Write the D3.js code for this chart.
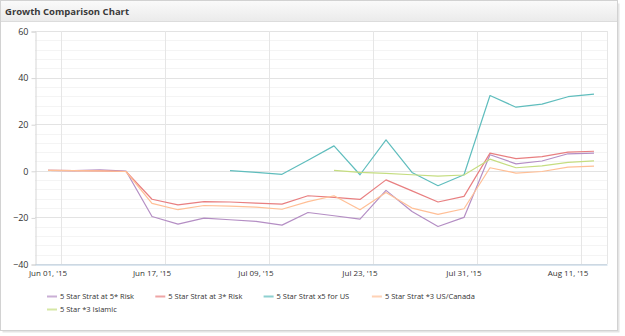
<!DOCTYPE html>
<html>
<head>
<meta charset="utf-8">
<script src="https://cdn.jsdelivr.net/npm/d3@7"></script>
<style>
  body { margin: 0; background: #fff; }
  svg text { font-family: "Open Sans", "DejaVu Sans", sans-serif; }
</style>
</head>
<body>
<div id="chart"></div>
<script>
// categories (dates) - only every 4th is labelled on the axis
var dates = ["Jun 01, '15", "Jun 04, '15", "Jun 08, '15", "Jun 11, '15",
    "Jun 17, '15", "Jun 22, '15", "Jun 26, '15", "Jul 01, '15",
    "Jul 09, '15", "Jul 13, '15", "Jul 16, '15", "Jul 20, '15",
    "Jul 23, '15", "Jul 27, '15", "Jul 29, '15", "Jul 30, '15",
    "Jul 31, '15", "Aug 03, '15", "Aug 05, '15", "Aug 07, '15",
    "Aug 11, '15", "Aug 13, '15"];

var seriesNames = ["5 Star Strat at 5* Risk", "5 Star Strat at 3* Risk",
    "5 Star Strat x5 for US", "5 Star Strat *3 US/Canada", "5 Star *3 Islamic"];

var risk5 = [0.2, 0.1, 0.4, -0.1, -19.6, -22.9, -20.3, -21, -21.7, -23.3, -17.9,
    -19.3, -20.7, -8.4, -17.5, -23.9, -20, 6.9, 3, 4.2, 7.3, 7.6];
var risk3 = [0.2, 0.1, 0, -0.3, -12.2, -14.6, -13.2, -13.4, -13.9, -14.3, -10.7,
    -11.4, -12.3, -3.9, -8.6, -13.4, -11, 7.6, 5.2, 6.1, 8, 8.4];
var x5us = [null, null, null, null, null, null, null, 0.1, -0.7, -1.5, 4.5,
    10.7, -1.7, 13.3, -0.7, -6.4, -1.7, 32.3, 27.3, 28.6, 31.8, 32.9];
var usCanada = [0.2, 0.1, 0, -0.3, -14, -16.7, -14.9, -15.2, -15.6, -16.5, -13.2,
    -10.7, -16.7, -9.3, -16, -18.7, -16.3, 1.3, -1, -0.3, 1.6, 2];
var islamic = [null, null, null, null, null, null, null, null, null, null, null,
    0.2, -0.7, -1.1, -1.7, -2.3, -1.8, 5, 1.3, 2.1, 3.6, 4.3];

var yTicks = [-40, -20, 0, 20, 40, 60];

var allSeries = [risk5, risk3, x5us, usCanada, islamic];
var colors = ["#b48ec4", "#e87f80", "#5fbdbd", "#ffbf96", "#c5dd80"];

var W = 625, H = 336;
var plot = {left: 35, right: 607, top: 31, bottom: 264};

var svg = d3.select("#chart").append("svg")
    .attr("width", W).attr("height", H);

// panel frame
svg.append("rect").attr("x", 2.5).attr("y", 3.5).attr("width", 617).attr("height", 329)
    .attr("fill", "#e4e4e4");
svg.append("rect").attr("x", 0.5).attr("y", 0.5).attr("width", 617).attr("height", 330)
    .attr("fill", "#fff").attr("stroke", "#d2d2d2");

var grad = svg.append("defs").append("linearGradient")
    .attr("id", "hdr").attr("x1", 0).attr("y1", 0).attr("x2", 0).attr("y2", 1);
grad.append("stop").attr("offset", "0%").attr("stop-color", "#fafafa");
grad.append("stop").attr("offset", "100%").attr("stop-color", "#ebebeb");

svg.append("rect").attr("x", 1).attr("y", 1).attr("width", 616).attr("height", 20)
    .attr("fill", "url(#hdr)");
svg.append("line").attr("x1", 1).attr("x2", 617).attr("y1", 21.5).attr("y2", 21.5)
    .attr("stroke", "#dcdcdc");
svg.append("text").attr("x", 5).attr("y", 15)
    .attr("font-size", "9.5px").attr("font-weight", "bold").attr("fill", "#3a3a3a")
    .text("Growth Comparison Chart");

// scales
var x = d3.scaleBand()
    .domain(d3.range(dates.length))
    .range([plot.left, plot.right]);

var y = d3.scaleLinear()
    .domain([-40, 60])
    .range([plot.bottom, plot.top]);

var g = svg.append("g");

// minor horizontal gridlines
g.selectAll(".minor").data(d3.range(-40, 61, 4).filter(function(v){ return v % 20 != 0; }))
    .enter().append("line")
    .attr("x1", plot.left).attr("x2", plot.right)
    .attr("y1", function(d){ return Math.round(y(d)) + 0.5; })
    .attr("y2", function(d){ return Math.round(y(d)) + 0.5; })
    .attr("stroke", "#f4f4f4");

// major horizontal gridlines
g.selectAll(".major").data(yTicks)
    .enter().append("line")
    .attr("x1", plot.left).attr("x2", plot.right)
    .attr("y1", function(d){ return Math.round(y(d)) + 0.5; })
    .attr("y2", function(d){ return Math.round(y(d)) + 0.5; })
    .attr("stroke", "#e3e3e3");

// vertical gridlines at end of every 4th category
var labelIdx = d3.range(0, dates.length, 4);
g.selectAll(".vgrid").data(labelIdx)
    .enter().append("line")
    .attr("x1", function(d){ return Math.round(x(d) + x.bandwidth()) + 0.5; })
    .attr("x2", function(d){ return Math.round(x(d) + x.bandwidth()) + 0.5; })
    .attr("y1", plot.top).attr("y2", plot.bottom)
    .attr("stroke", "#e6e6e6");

// right edge of plot
g.append("line").attr("x1", plot.right + 0.5).attr("x2", plot.right + 0.5)
    .attr("y1", plot.top).attr("y2", plot.bottom).attr("stroke", "#e6e6e6");

// y axis
var yAxis = svg.append("g")
    .attr("transform", "translate(" + (plot.left + 0.5) + ",0.5)")
    .call(d3.axisLeft(y).tickValues(yTicks).tickSize(4).tickPadding(3));
yAxis.select(".domain").attr("stroke", "#d6d6d6");
yAxis.selectAll(".tick line").attr("stroke", "#d6d6d6");
yAxis.selectAll("text").attr("font-size", "9px").attr("fill", "#333")
    .attr("font-family", "'Open Sans', sans-serif");

// x axis
var xAxis = svg.append("g")
    .attr("transform", "translate(0," + (plot.bottom + 0.5) + ")")
    .call(d3.axisBottom(x).tickValues(labelIdx).tickSize(0).tickPadding(6)
        .tickFormat(function(i){ return dates[i]; }));
xAxis.select(".domain").attr("stroke", "#b7cde0");
xAxis.selectAll("text").attr("font-size", "8px").attr("fill", "#333")
    .attr("font-family", "'Open Sans', sans-serif");

// lines
var line = d3.line()
    .defined(function(d){ return d != null; })
    .x(function(d, i){ return x(i) + x.bandwidth() / 2; })
    .y(function(d){ return y(d); });

svg.selectAll(".series").data(allSeries)
    .enter().append("path")
    .attr("d", line)
    .attr("fill", "none")
    .attr("stroke", function(d, i){ return colors[i]; })
    .attr("stroke-width", 1.2)
    .attr("stroke-linejoin", "round");

// legend
var leg = svg.selectAll(".leg").data(seriesNames)
    .enter().append("g")
    .attr("transform", function(d, i){
        return "translate(" + (47 + (i % 4) * 108.3) + "," + (296 + Math.floor(i / 4) * 13) + ")";
    });
leg.append("line").attr("x1", 0).attr("x2", 10).attr("y1", 0.5).attr("y2", 0.5)
    .attr("stroke", function(d, i){ return colors[i]; }).attr("stroke-width", 2)
    .attr("opacity", 0.7);
leg.append("text").attr("x", 13).attr("y", 3)
    .attr("font-size", "7.5px").attr("fill", "#333")
    .text(function(d){ return d; });
</script>
</body>
</html>
